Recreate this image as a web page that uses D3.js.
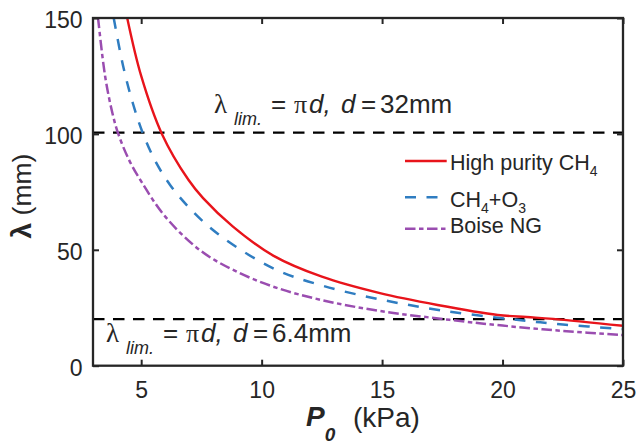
<!DOCTYPE html>
<html>
<head>
<meta charset="utf-8">
<script src="https://cdn.jsdelivr.net/npm/d3@7"></script>
<style>
  html, body { margin: 0; padding: 0; background: #fff; }
  svg { display: block; }
  text { font-family: "Liberation Sans", Arial, Helvetica, sans-serif; fill: #262626; }
</style>
</head>
<body>
<svg id="chart" width="636" height="444"></svg>
<script>
// Cell width λ (mm) against initial pressure P0 (kPa) for three fuel mixtures
const pressureHigh = [4.42, 5.0, 5.86, 6.96, 7.57, 8.81, 10.48, 12.5, 14.91, 17.3, 19.8, 21.0, 22.1, 25];
const lambdaHigh   = [150, 125, 100, 80.2, 72.3, 60.0, 47.5, 38.4, 31.3, 26.2, 21.9, 21.0, 20.2, 17.2];

const pressureMix = [3.86, 4.25, 4.66, 5.08, 5.6, 6.2, 7.0, 8.19, 10.48, 12.5, 14.91, 17.5, 20.4, 22.5, 25];
const lambdaMix   = [150, 129.3, 113.0, 100, 88.0, 78.0, 68.1, 56.8, 42.0, 34.6, 28.6, 23.8, 20.0, 17.8, 15.8];

const pressureBoise = [3.21, 3.5, 3.8, 4.05, 4.5, 5.05, 6.0, 7.43, 8.8, 10.48, 12.5, 14.91, 17.8, 20.0, 22.5, 25];
const lambdaBoise   = [150, 125.1, 109.2, 100, 88.7, 78.7, 64.3, 49.9, 41.4, 34.1, 28.3, 23.6, 19.8, 17.3, 15.0, 13.2];

const seriesNames = ["High purity CH4", "CH4+O3", "Boise NG"];

// Limiting cell width λ = πd for the two tube diameters (mm)
const limitDiameters = [32, 6.4];
const limitLabels = ["32mm", "6.4mm"];

const xTicks = [5, 10, 15, 20, 25];
const yTicks = [0, 50, 100, 150];

const svg = d3.select("#chart");
const plotLeft = 93, plotRight = 623, plotTop = 18, plotBottom = 365.7;
const axisColor = "#262626";

const x = d3.scaleLinear().domain([3, 25]).range([plotLeft, plotRight]);
const y = d3.scaleLinear().domain([0, 150]).range([plotBottom, plotTop]);

svg.append("defs").append("clipPath").attr("id", "plotClip")
  .append("rect").attr("x", plotLeft).attr("y", plotTop)
  .attr("width", plotRight - plotLeft).attr("height", plotBottom - plotTop);

const plot = svg.append("g").attr("clip-path", "url(#plotClip)");

// Reference lines at λ = πd
plot.selectAll("line.limit")
  .data(limitDiameters)
  .join("line")
  .attr("class", "limit")
  .attr("x1", x(3)).attr("x2", x(25))
  .attr("y1", d => y(Math.PI * d)).attr("y2", d => y(Math.PI * d))
  .attr("stroke", "#000").attr("stroke-width", 2.4)
  .attr("stroke-dasharray", "11.5,8.5");

const series = [
  { name: seriesNames[0], p: pressureHigh, l: lambdaHigh, color: "#E8141B", dash: null, width: 2.4 },
  { name: seriesNames[1], p: pressureMix, l: lambdaMix, color: "#2F7DC1", dash: "11,10.5", width: 2.5 },
  { name: seriesNames[2], p: pressureBoise, l: lambdaBoise, color: "#9A4DB0", dash: "10.5,3.5,4.5,3.5", width: 2.5 }
];

const line = d3.line()
  .x(d => x(d[0]))
  .y(d => y(d[1]))
  .curve(d3.curveCatmullRom.alpha(0.5));

plot.selectAll("path.series")
  .data(series)
  .join("path")
  .attr("class", "series")
  .attr("d", s => line(s.p.map((p, i) => [p, s.l[i]])))
  .attr("fill", "none")
  .attr("stroke", s => s.color)
  .attr("stroke-width", s => s.width)
  .attr("stroke-dasharray", s => s.dash);

// Axes with inward ticks on all four sides
const tickFont = "23px";
const gx = svg.append("g").attr("transform", `translate(0,${plotBottom})`)
  .call(d3.axisBottom(x).tickValues(xTicks).tickSizeInner(-6).tickSizeOuter(0));
gx.selectAll("text").attr("y", 32.5).attr("dy", 0).style("font-size", tickFont);

const gy = svg.append("g").attr("transform", `translate(${plotLeft},0)`)
  .call(d3.axisLeft(y).tickValues(yTicks).tickSizeInner(-6).tickSizeOuter(0));
gy.selectAll("text").attr("x", -10.5).attr("dy", 0).attr("y", 9.7).style("font-size", tickFont);

svg.append("g").attr("transform", `translate(0,${plotTop})`)
  .call(d3.axisTop(x).tickValues(xTicks).tickSizeInner(-6).tickSizeOuter(0).tickFormat(() => ""));
svg.append("g").attr("transform", `translate(${plotRight},0)`)
  .call(d3.axisRight(y).tickValues(yTicks).tickSizeInner(-6).tickSizeOuter(0).tickFormat(() => ""));

svg.selectAll(".domain").remove();
svg.selectAll(".tick line").attr("stroke", axisColor).attr("stroke-width", 2);
svg.selectAll(".tick text").attr("fill", axisColor).style("font-family", "'Liberation Sans', Arial, sans-serif");

svg.append("rect")
  .attr("x", plotLeft).attr("y", plotTop)
  .attr("width", plotRight - plotLeft).attr("height", plotBottom - plotTop)
  .attr("fill", "none").attr("stroke", axisColor).attr("stroke-width", 2.3);

// Annotations for the limiting cell widths
function limitLabel(x0, base, value) {
  const g = svg.append("g").attr("transform", `translate(${x0},${base})`);
  g.append("text").attr("x", 0).attr("y", 0)
    .style("font-family", "'Liberation Serif', 'Times New Roman', serif").style("font-size", "27px")
    .text("λ");
  g.append("text").attr("x", 20).attr("y", 12)
    .style("font-style", "italic").style("font-size", "18px").text("lim.");
  g.append("text").attr("x", 57).attr("y", 0).style("font-size", "26px").text("=");
  g.append("text").attr("x", 80).attr("y", 0)
    .style("font-family", "'Liberation Serif', 'Times New Roman', serif").style("font-size", "26px")
    .text("π");
  g.append("text").attr("x", 95).attr("y", 0)
    .style("font-style", "italic").style("font-size", "26px").text("d,");
  g.append("text").attr("x", 127).attr("y", 0)
    .style("font-style", "italic").style("font-size", "26px").text("d");
  g.append("text").attr("x", 147).attr("y", 0).style("font-size", "26px").text("=");
  g.append("text").attr("x", 166).attr("y", 0).style("font-size", "26px").text(value);
}
limitLabel(214, 113, limitLabels[0]);
limitLabel(106, 341.5, limitLabels[1]);

// Legend
const legendY = [161, 197.3, 228.7];
const legendBase = [170, 206.7, 233.3];
const legend = svg.append("g");
series.forEach((s, i) => {
  legend.append("line")
    .attr("x1", 405).attr("x2", 446.7)
    .attr("y1", legendY[i]).attr("y2", legendY[i])
    .attr("stroke", s.color).attr("stroke-width", s.width)
    .attr("stroke-dasharray", s.dash);
});
const legFont = "21.5px", subFont = "14px";
const t1 = legend.append("text").attr("x", 450).attr("y", legendBase[0]).style("font-size", legFont);
t1.append("tspan").text("High purity CH");
t1.append("tspan").attr("dy", 5.5).style("font-size", subFont).text("4");
const t2 = legend.append("text").attr("x", 450).attr("y", legendBase[1]).style("font-size", legFont);
t2.append("tspan").text("CH");
t2.append("tspan").attr("dy", 6).style("font-size", subFont).text("4");
t2.append("tspan").attr("dy", -6).text("+O");
t2.append("tspan").attr("dy", 6).style("font-size", subFont).text("3");
legend.append("text").attr("x", 450).attr("y", legendBase[2]).style("font-size", legFont).text(seriesNames[2]);

// Axis titles
const yt = svg.append("text")
  .attr("transform", "translate(31,196) rotate(-90)")
  .attr("text-anchor", "middle");
yt.append("tspan").style("font-weight", "bold").style("font-size", "28px").text("λ");
yt.append("tspan").style("font-size", "26.5px").text(" (mm)");

const xt = svg.append("text").attr("x", 306).attr("y", 426)
  .style("font-weight", "bold").style("font-style", "italic");
xt.append("tspan").style("font-size", "28px").text("P");
xt.append("tspan").attr("dx", 0).attr("dy", 15).style("font-size", "19px").text("0");
svg.append("text").attr("x", 353).attr("y", 427)
  .style("font-size", "28px").text("(kPa)");
</script>
</body>
</html>
